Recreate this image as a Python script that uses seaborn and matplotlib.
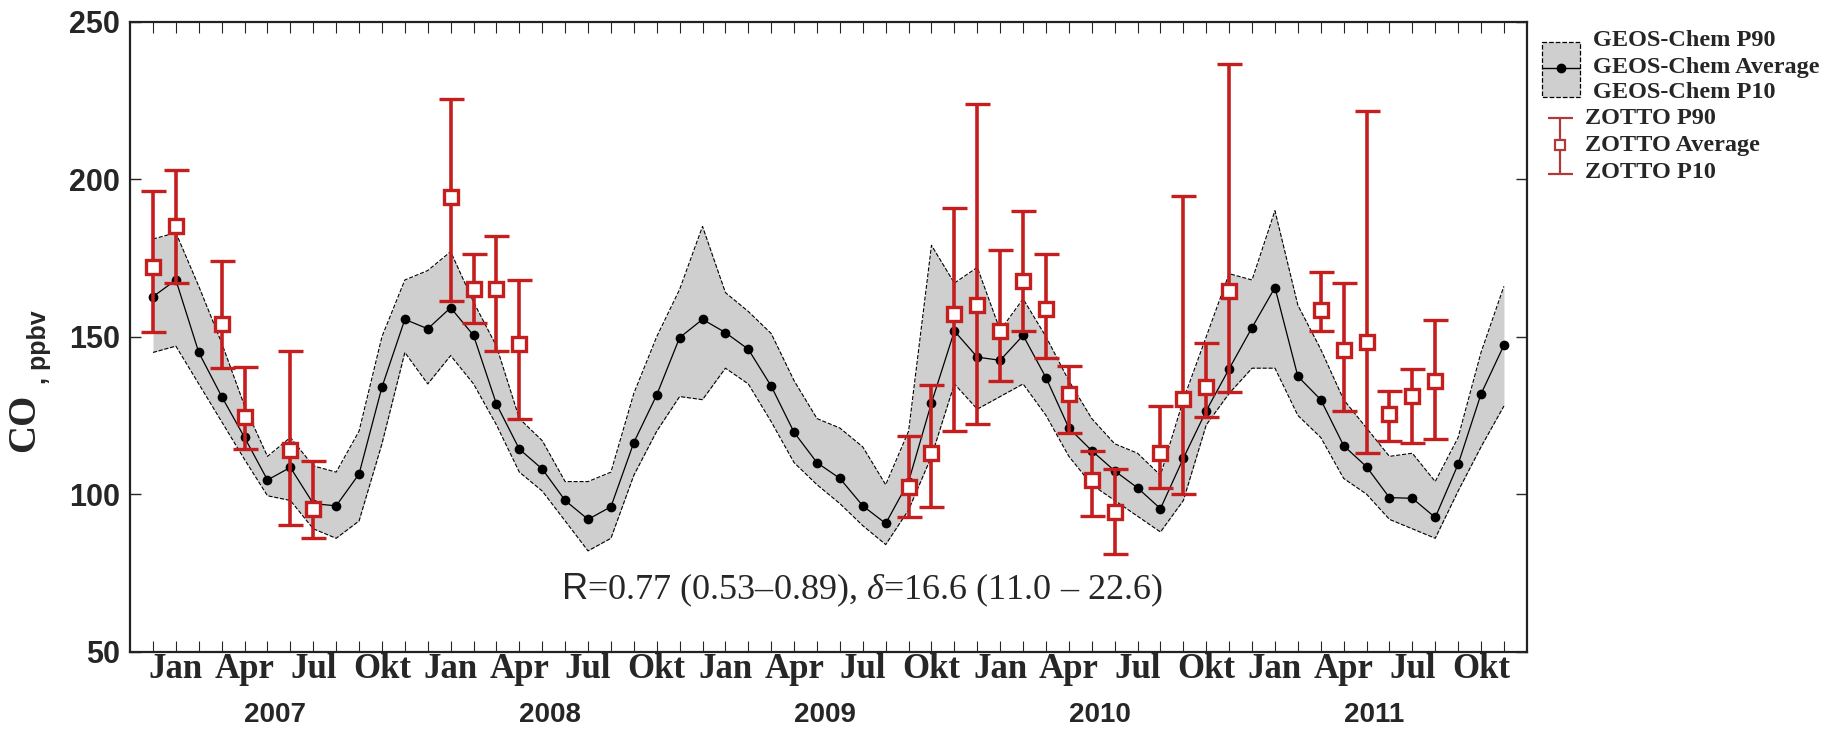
import numpy as np
import pandas as pd
import matplotlib.pyplot as plt
import seaborn as sns
from matplotlib.patches import Rectangle
from matplotlib.transforms import blended_transform_factory

# GEOS-Chem monthly CO (ppbv), Dec 2006 .. Nov 2011
months = pd.period_range('2006-12', '2011-11', freq='M')
geos_avg = [162.7, 168, 145, 131, 118, 104.5, 108.5, 97, 96.3, 106.4, 134, 155.5,
            152.5, 159.2, 150.4, 128.6, 114.3, 108, 98, 92, 96, 116.4, 131.5, 149.7,
            155.5, 151.3, 146, 134.3, 119.6, 110, 105, 96.3, 90.7, 104, 129, 151.8,
            143.5, 142.5, 150.4, 137, 121, 113.8, 107.4, 102, 95.4, 111.4, 126.5, 139.8,
            152.9, 165.6, 137.4, 130, 115.4, 108.7, 98.9, 98.7, 92.6, 109.5, 131.8, 147.3]
geos_p90 = [181, 183, 166, 148, 128, 112, 118, 109, 107, 120, 150, 168,
            171, 177, 161, 147, 124, 117, 104, 104, 107, 132, 150, 165,
            185, 164, 158, 151, 136, 124, 121, 115, 103, 120, 179, 167,
            172, 152, 162, 150, 136, 124, 116, 113, 106, 130, 150, 170,
            168, 190, 160, 146, 130, 121, 112, 113, 104, 118, 145, 166]
geos_p10 = [145, 147, 135, 123, 111, 99.5, 98, 89, 86, 91.5, 116, 145,
            135, 144, 135, 122, 107, 101, 91.5, 82, 86, 106, 120, 131,
            130, 140, 135, 123, 110, 103, 97, 90, 84, 95, 112, 135,
            127, 131, 135, 125, 112, 103, 98, 93, 88, 98, 122, 132,
            140, 140, 125, 118, 105, 100, 92, 89, 86, 101, 115, 128]

# ZOTTO observations (ppbv)
zotto_months = ['2006-12', '2007-01', '2007-03', '2007-04', '2007-06', '2007-07',
                '2008-01', '2008-02', '2008-03', '2008-04',
                '2009-09', '2009-10', '2009-11', '2009-12', '2010-01', '2010-02',
                '2010-03', '2010-04', '2010-05', '2010-06', '2010-08', '2010-09',
                '2010-10', '2010-11',
                '2011-03', '2011-04', '2011-05', '2011-06', '2011-07', '2011-08']
zotto_avg = [172, 185.2, 154, 124.6, 114, 95.2,
             194.5, 165, 165, 147.6,
             102.3, 113.2, 157.3, 160, 151.8, 167.7,
             158.7, 131.7, 104.4, 94.2, 113.2, 130.2,
             134.1, 164.5,
             158.6, 145.7, 148.2, 125.4, 131.2, 136]
zotto_p90 = [196.4, 202.8, 174, 140.4, 145.6, 110.6,
             225.4, 176.2, 182, 168,
             118.5, 134.8, 191, 224, 177.5, 189.8,
             176.2, 140.7, 113.8, 108, 128, 194.8,
             148, 236.6,
             170.4, 166.9, 221.7, 132.8, 139.8, 155.4]
zotto_p10 = [151.5, 166.9, 140, 114.3, 90.1, 86.2,
             161.4, 154.5, 145.6, 124,
             92.8, 95.8, 120, 122.2, 135.9, 151.8,
             143.3, 119.3, 93.1, 81.1, 102.1, 100,
             124.4, 132.3,
             151.8, 126.5, 113.2, 117, 116.4, 117.5]

month_names = {1: 'Jan', 4: 'Apr', 7: 'Jul', 10: 'Okt'}
years = ['2007', '2008', '2009', '2010', '2011']

geos = pd.DataFrame({'pos': np.arange(len(months)), 'avg': geos_avg,
                     'p90': geos_p90, 'p10': geos_p10})
zotto = pd.DataFrame({'month': zotto_months, 'avg': zotto_avg,
                      'p90': zotto_p90, 'p10': zotto_p10})
zotto['pos'] = [months.get_loc(pd.Period(m, 'M')) for m in zotto.month]

sns.set_style('white')
plt.rcParams['font.family'] = ['Liberation Serif', 'DejaVu Serif']
plt.rcParams['mathtext.fontset'] = 'custom'
plt.rcParams['mathtext.rm'] = 'Liberation Serif'
plt.rcParams['mathtext.it'] = 'Liberation Serif:italic'
plt.rcParams['mathtext.sf'] = 'Liberation Sans'

red = '#c41e1e'
fig = plt.figure(figsize=(18.27, 7.30), dpi=100)
ax = fig.add_axes([0.0712, 0.1073, 0.7645, 0.8630])

# model band + mean
ax.fill_between(geos.pos, geos.p10, geos.p90, color='#cfcfcf', lw=0, zorder=1)
sns.lineplot(data=geos, x='pos', y='p90', ax=ax, color='black', lw=0.8, linestyle='--', zorder=2)
sns.lineplot(data=geos, x='pos', y='p10', ax=ax, color='black', lw=0.8, linestyle='--', zorder=2)
sns.lineplot(data=geos, x='pos', y='avg', ax=ax, color='black', lw=0.9, marker='o',
             markersize=7, markeredgewidth=0, zorder=3)

# observations
ax.errorbar(zotto.pos, zotto.avg, yerr=[zotto.avg - zotto.p10, zotto.p90 - zotto.avg],
            fmt='s', color=red, mfc='white', mec=red, ms=10, mew=2.4,
            elinewidth=2.6, capsize=9, capthick=2.6, zorder=5)

ax.set_xlim(-1, 60)
ax.set_ylim(50, 250)
ax.set_xlabel('')
ax.set_ylabel('')
ax.set_xticks(geos.pos)
ax.set_xticklabels([month_names.get(p.month, '') for p in months],
                   fontsize=25, fontweight='bold', family='Liberation Serif')
ax.set_yticks([50, 100, 150, 200, 250])
ax.set_yticklabels(['50', '100', '150', '200', '250'], fontsize=22,
                   fontweight='bold', family='Liberation Sans')
ax.tick_params(axis='x', direction='in', length=8, width=0.8, top=True, bottom=True, pad=1)
ax.tick_params(axis='y', direction='in', length=8, width=1.0, left=True, right=True, pad=7)
for s in ax.spines.values():
    s.set_linewidth(1.6)
    s.set_color('#222222')

trans = blended_transform_factory(ax.transData, ax.transAxes)
for y in years:
    p = months.get_loc(pd.Period(y + '-01', 'M')) + 4.35
    ax.text(p, -0.1, y, transform=trans, ha='center', va='center', fontsize=20,
            fontweight='bold', family='Liberation Sans')

ax.text(0.524, 0.098, r'$\mathsf{R}$=0.77 (0.53–0.89), $\delta$=16.6 (11.0 – 22.6)',
        transform=ax.transAxes, ha='center', va='center', fontsize=26)

# y label: "CO" serif bold + ", ppbv" sans bold
fig.text(25 / 1827, 1 - 452 / 730, 'CO', rotation=90, ha='center', va='bottom',
         fontsize=28, fontweight='bold', family='Liberation Serif')
fig.text(39 / 1827, 1 - 384 / 730, ', ppbv', rotation=90, ha='center', va='bottom',
         fontsize=18, fontweight='bold', family='Liberation Sans')

# legend drawn in pixel space
lax = fig.add_axes([0, 0, 1, 1], zorder=10)
lax.set_xlim(0, 1827)
lax.set_ylim(730, 0)
lax.axis('off')
lax.add_patch(Rectangle((1542, 42), 38, 55, facecolor='#cfcfcf', edgecolor='black',
                        lw=0.9, ls='--'))
lax.plot([1542, 1580], [68, 68], color='black', lw=1)
lax.plot([1561], [68], 'o', color='black', ms=6)
lax.errorbar([1560], [145], yerr=[[27], [29]], fmt='s', color='#b03a3a', mfc='white',
             mec='#b03a3a', ms=7, mew=1.6, elinewidth=1.6, capsize=9, capthick=1.6)
leg_font = dict(fontsize=17.5, fontweight='bold', family='Liberation Serif', va='center', ha='left')
for txt, yy in [('GEOS-Chem P90', 41), ('GEOS-Chem Average', 68), ('GEOS-Chem P10', 92)]:
    lax.text(1593, yy, txt, **leg_font)
for txt, yy in [('ZOTTO P90', 118), ('ZOTTO Average', 145), ('ZOTTO P10', 172)]:
    lax.text(1585, yy, txt, **leg_font)

fig.savefig('out.png', dpi=100)
